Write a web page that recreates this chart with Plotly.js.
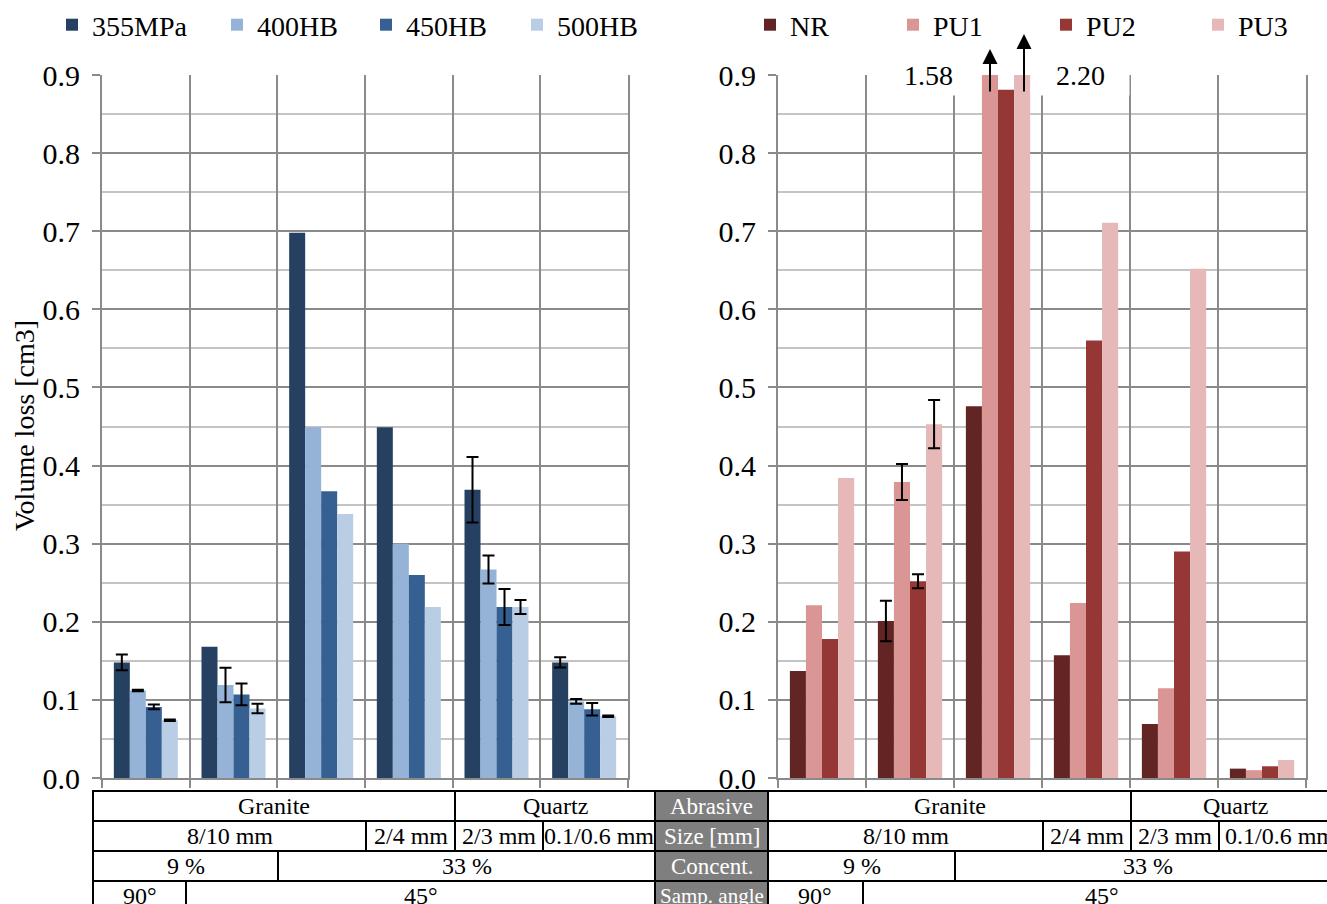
<!DOCTYPE html>
<html>
<head>
<meta charset="utf-8">
<script src="https://cdn.plot.ly/plotly-3.0.1.min.js"></script>
<style>
html,body{margin:0;padding:0;background:#fff;overflow:hidden;}
#chart{width:1327px;height:904px;}
</style>
</head>
<body>
<div id="chart"></div>
<script>
// ---------------- DATA ----------------
const categories = [
  'Granite 8/10 mm, 9 %, 90°',
  'Granite 8/10 mm, 9 %, 45°',
  'Granite 8/10 mm, 33 %, 45°',
  'Granite 2/4 mm, 33 %, 45°',
  'Quartz 2/3 mm, 33 %, 45°',
  'Quartz 0.1/0.6 mm, 33 %, 45°'
];

// Steels (left panel)
const steelNames = ['355MPa', '400HB', '450HB', '500HB'];
const s355 = [0.148, 0.168, 0.698, 0.449, 0.369, 0.148];
const s355Err = [0.010, null, null, null, 0.042, 0.0066];
const hb400 = [0.112, 0.119, 0.449, 0.300, 0.267, 0.098];
const hb400Err = [0.001, 0.022, null, null, 0.018, 0.003];
const hb450 = [0.091, 0.107, 0.367, 0.260, 0.219, 0.088];
const hb450Err = [0.003, 0.014, null, null, 0.023, 0.008];
const hb500 = [0.074, 0.089, 0.338, 0.219, 0.219, 0.079];
const hb500Err = [0.001, 0.006, null, null, 0.009, 0.001];

// Elastomers (right panel)
const rubberNames = ['NR', 'PU1', 'PU2', 'PU3'];
const nr  = [0.137, 0.201, 0.476, 0.157, 0.069, 0.012];
const nrErr  = [null, 0.026, null, null, null, null];
const pu1 = [0.221, 0.379, 1.58, 0.224, 0.115, 0.010];
const pu1Err = [null, 0.023, null, null, null, null];
const pu2 = [0.178, 0.252, 0.881, 0.560, 0.290, 0.015];
const pu2Err = [null, 0.009, null, null, null, null];
const pu3 = [0.384, 0.453, 2.20, 0.711, 0.652, 0.023];
const pu3Err = [null, 0.031, null, null, null, null];

const yTickVals = [0, 0.1, 0.2, 0.3, 0.4, 0.5, 0.6, 0.7, 0.8, 0.9];
const yTickText = ['0.0', '0.1', '0.2', '0.3', '0.4', '0.5', '0.6', '0.7', '0.8', '0.9'];
const yTitle = 'Volume loss [cm3]';

// Table below the charts
const headerLabels = ['Abrasive', 'Size [mm]', 'Concent.', 'Samp. angle'];
const abrasiveRow = [['Granite', 4], ['Quartz', 2]];          // [label, span in categories]
const sizeRow = [['8/10 mm', 3], ['2/4 mm', 1], ['2/3 mm', 1], ['0.1/0.6 mm', 1]];
const concRow = [['9 %', 2], ['33 %', 4]];
const angleRow = [['90°', 1], ['45°', 5]];

// ---------------- LAYOUT ----------------
const W = 1327, H = 904;
const FONT = '"Liberation Serif", "Times New Roman", serif';
const px = x => x / W;
const py = y => 1 - y / H;

const steelColors = ['#254061', '#95B3D7', '#366092', '#B9CDE5'];
const rubberColors = ['#632523', '#D99694', '#953735', '#E6B9B8'];
// legend text start positions (px) for each of the 8 legend entries
const legendTextX = [92, 257, 406, 557, 790, 933, 1086, 1238];

const toErr = arr => arr.map(v => (v === null ? NaN : v));
const legendId = i => (i === 0 ? 'legend' : 'legend' + (i + 1));

function barTrace(name, y, err, color, xa, ya, leg) {
  return {
    type: 'bar', name: name, x: categories, y: y,
    xaxis: xa, yaxis: ya, legend: leg,
    marker: {color: color, line: {width: 0}},
    error_y: {type: 'data', array: toErr(err), visible: true,
              color: '#000', thickness: 2, width: 6},
    hoverinfo: 'name+y'
  };
}

const data = [
  barTrace(steelNames[0], s355, s355Err, steelColors[0], 'x', 'y', legendId(0)),
  barTrace(steelNames[1], hb400, hb400Err, steelColors[1], 'x', 'y', legendId(1)),
  barTrace(steelNames[2], hb450, hb450Err, steelColors[2], 'x', 'y', legendId(2)),
  barTrace(steelNames[3], hb500, hb500Err, steelColors[3], 'x', 'y', legendId(3)),
  barTrace(rubberNames[0], nr, nrErr, rubberColors[0], 'x2', 'y2', legendId(4)),
  barTrace(rubberNames[1], pu1, pu1Err, rubberColors[1], 'x2', 'y2', legendId(5)),
  barTrace(rubberNames[2], pu2, pu2Err, rubberColors[2], 'x2', 'y2', legendId(6)),
  barTrace(rubberNames[3], pu3, pu3Err, rubberColors[3], 'x2', 'y2', legendId(7))
];

const gridMajor = '#8a8a8a';
const gridMinor = '#c4c4c4';

function xAxis(domain, anchor) {
  return {
    domain: domain, anchor: anchor, type: 'category',
    tickson: 'boundaries', ticks: 'outside', ticklen: 8, tickwidth: 2, tickcolor: gridMajor,
    showticklabels: false, showgrid: true, gridcolor: gridMajor, gridwidth: 2,
    showline: true, linecolor: gridMajor, linewidth: 2, mirror: false,
    fixedrange: true, automargin: false
  };
}
function yAxis(domain, anchor) {
  return {
    domain: domain, anchor: anchor, range: [0, 0.9],
    tickvals: yTickVals, ticktext: yTickText,
    ticks: 'outside', ticklen: 8, tickwidth: 2, tickcolor: gridMajor,
    ticklabelstandoff: 6,
    tickfont: {family: FONT, size: 30, color: '#000'},
    showgrid: true, gridcolor: gridMajor, gridwidth: 2,
    minor: {dtick: 0.05, tick0: 0, showgrid: true, gridcolor: gridMinor, gridwidth: 2, ticks: ''},
    showline: true, linecolor: gridMajor, linewidth: 2, mirror: true,
    zeroline: false, fixedrange: true, automargin: false
  };
}

const yDom = [py(778), py(75)];
const layout = {
  width: W, height: H,
  margin: {l: 0, r: 0, t: 0, b: 0, pad: 0, autoexpand: false},
  paper_bgcolor: '#fff', plot_bgcolor: '#fff',
  font: {family: FONT, size: 24, color: '#000'},
  barmode: 'group', bargap: 0.27, bargroupgap: 0,
  showlegend: true,
  xaxis: xAxis([px(102), px(628)], 'y'),
  yaxis: yAxis(yDom, 'x'),
  xaxis2: xAxis([px(778), px(1306)], 'y2'),
  yaxis2: yAxis(yDom, 'x2'),
  shapes: [],
  annotations: []
};

// one legend per entry, placed like the original legend rows
legendTextX.forEach((tx, i) => {
  layout[legendId(i)] = {
    orientation: 'h', x: px(tx - 40), xanchor: 'left', y: py(25), yanchor: 'middle',
    font: {family: FONT, size: 28, color: '#000'}, bgcolor: 'rgba(0,0,0,0)',
    borderwidth: 0
  };
});

// y-axis title (left panel)
layout.annotations.push({
  xref: 'paper', yref: 'paper', x: px(24), y: py(426), xanchor: 'center', yanchor: 'middle',
  text: yTitle, textangle: -90, showarrow: false,
  font: {family: FONT, size: 28, color: '#000'}
});

// Truncated-bar labels and arrows (right panel)
const bigIdx = 2;
const overLabels = [
  {v: pu1[bigIdx], cx: 928, w: 89},
  {v: pu3[bigIdx], cx: 1080, w: 95}
];
overLabels.forEach(o => {
  layout.annotations.push({
    xref: 'paper', yref: 'paper', x: px(o.cx), y: py(75), xanchor: 'center', yanchor: 'middle',
    text: o.v.toFixed(2), showarrow: false, bgcolor: '#fff',
    width: o.w, height: 38, font: {family: FONT, size: 28, color: '#000'}
  });
});
const arrows = [{x: 990, tip: 49}, {x: 1024, tip: 34}];
arrows.forEach(a => {
  layout.annotations.push({
    xref: 'paper', yref: 'paper', x: px(a.x), y: py(a.tip),
    ax: 0, ay: 93 - a.tip, axref: 'pixel', ayref: 'pixel',
    text: '', showarrow: true, arrowhead: 2, arrowsize: 1.5, arrowwidth: 2,
    arrowcolor: '#000', standoff: 0, startstandoff: 0
  });
});

// ---------------- TABLE ----------------
const rowY = [791, 821, 851, 881, 911];
const leftBounds = [93, 186, 278, 366, 455, 543, 655];
const rightBounds = [768, 863, 955, 1043, 1131, 1219, 1340];
const tableRows = [abrasiveRow, sizeRow, concRow, angleRow];

function colEdges(bounds, row) {
  const out = [];
  let idx = 0;
  row.forEach(([label, span]) => {
    out.push([bounds[idx], bounds[idx + span], label]);
    idx += span;
  });
  return out;
}

function drawCell(x0, x1, y0, y1, label, fill, color, size) {
  layout.shapes.push({
    type: 'rect', xref: 'paper', yref: 'paper',
    x0: px(x0), x1: px(x1), y0: py(y1), y1: py(y0),
    line: {color: '#000', width: 2}, fillcolor: fill, layer: 'above'
  });
  layout.annotations.push({
    xref: 'paper', yref: 'paper', x: px((x0 + x1) / 2), y: py((y0 + y1) / 2),
    xanchor: 'center', yanchor: 'middle', showarrow: false, text: label,
    font: {family: FONT, size: size, color: color}
  });
}

[leftBounds, rightBounds].forEach(bounds => {
  tableRows.forEach((row, r) => {
    colEdges(bounds, row).forEach(([x0, x1, label]) => {
      drawCell(x0, x1, rowY[r], rowY[r + 1], label, '#fff', '#000', 24);
    });
  });
});
headerLabels.forEach((label, r) => {
  drawCell(655, 768, rowY[r], rowY[r + 1], label, '#7f7f7f', '#fff', label.length > 10 ? 21 : 23);
});

Plotly.newPlot('chart', data, layout, {displayModeBar: false, responsive: false});
</script>
</body>
</html>
